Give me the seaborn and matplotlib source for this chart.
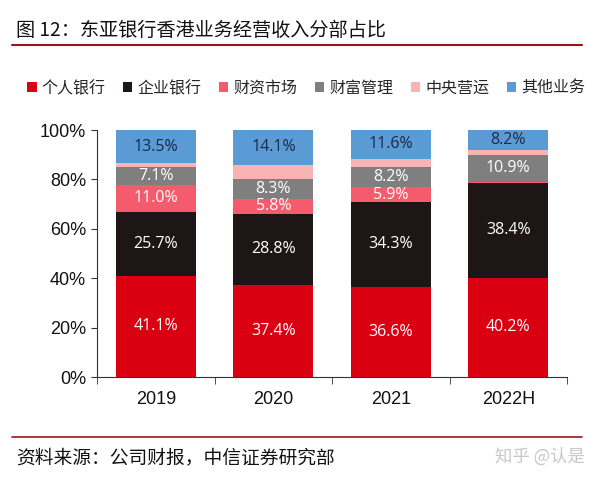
import numpy as np
import pandas as pd
import matplotlib
matplotlib.use("Agg")
import matplotlib.pyplot as plt
import seaborn as sns
from matplotlib.patches import Patch
from matplotlib.ticker import PercentFormatter, FixedLocator

sns.set_style("white")
plt.rcParams['font.family'] = ['Liberation Sans', 'Noto Sans CJK SC', 'DejaVu Sans']

# data (percent share)
years = ["2019", "2020", "2021", "2022H"]
segments = ["个人银行", "企业银行", "财资市场", "财富管理", "中央营运", "其他业务"]
personal = [41.1, 37.4, 36.6, 40.2]
corporate = [25.7, 28.8, 34.3, 38.4]
markets = [11.0, 5.8, 5.9, 0.4]
wealth = [7.1, 8.3, 8.2, 10.9]
central = [1.6, 5.6, 3.4, 1.9]
others = [13.5, 14.1, 11.6, 8.2]

colors = ["#DB0011", "#1E1516", "#F45B6C", "#7F7F7F", "#F8B3B3", "#5B9BD5"]
label_colors = ["white", "white", "white", "white", None, "#1A2A48"]

df = pd.DataFrame({"year": years, "个人银行": personal, "企业银行": corporate,
                   "财资市场": markets, "财富管理": wealth, "中央营运": central,
                   "其他业务": others})

fig = plt.figure(figsize=(6.0, 4.78), dpi=100)
ax = fig.add_axes([0.162, 0.211, 0.783, 0.517])

bottom = np.zeros(len(years))
for seg, col, lc in zip(segments, colors, label_colors):
    vals = df[seg].values / 100
    sns.barplot(data=df.assign(v=vals), x="year", y="v", color=col, width=0.68,
                bottom=bottom, ax=ax, saturation=1, linewidth=0, errorbar=None)
    if lc is not None:
        for i, v in enumerate(vals):
            if df[seg].values[i] >= 1:
                ax.text(i, bottom[i] + v / 2, f"{df[seg].values[i]:.1f}%",
                        ha="center", va="center", color=lc, fontsize=11.5,
                        family=['Open Sans', 'DejaVu Sans'])
    bottom = bottom + vals

ax.set_ylim(0, 1.0)
ax.set_xlim(-0.5, len(years) - 0.5)
ax.yaxis.set_major_locator(FixedLocator([0, 0.2, 0.4, 0.6, 0.8, 1.0]))
ax.yaxis.set_major_formatter(PercentFormatter(1.0, decimals=0))
ax.set_xlabel("")
ax.set_ylabel("")
for s in ["top", "right"]:
    ax.spines[s].set_visible(False)
for s in ["left", "bottom"]:
    ax.spines[s].set_color("#333333")
    ax.spines[s].set_linewidth(0.8)
ax.tick_params(axis="y", labelsize=13, length=4, left=True, color="#333333", pad=4,
               labelcolor="#111111")
ax.tick_params(axis="x", which="major", labelsize=13, length=0, pad=10,
               labelcolor="#111111")
ax.set_xticks(np.arange(-0.5, len(years)), minor=True)
ax.tick_params(axis="x", which="minor", length=5, bottom=True, color="#333333")

handles = [Patch(facecolor=c, edgecolor="none") for c in colors]
fig.legend(handles, segments, loc="center", bbox_to_anchor=(0.51, 0.815), ncol=6,
           frameon=False, handlelength=0.6, handleheight=0.6,
           handletextpad=0.3, columnspacing=1.1,
           prop={'family': ['Noto Sans CJK SC'], 'size': 11.5})

# title and rules
fig.text(0.027, 0.937, "图 12：东亚银行香港业务经营收入分部占比", fontsize=13.8,
         family=['Noto Sans CJK SC'], va="center", color="#111111", weight="medium")
fig.add_artist(plt.Line2D([0.02, 0.97], [0.905, 0.905], color="#A0101E", lw=1.5))
fig.add_artist(plt.Line2D([0.02, 0.97], [0.085, 0.085], color="#A0101E", lw=1.2))
fig.text(0.027, 0.043, "资料来源：公司财报，中信证券研究部", fontsize=13.5,
         family=['Noto Sans CJK SC'], va="center", color="#111111")
fig.text(0.975, 0.045, "知乎 @认是", fontsize=12.5, family=['Noto Sans CJK SC'],
         va="center", ha="right", color="#C8C8C8")

fig.savefig("out.png", dpi=100)
